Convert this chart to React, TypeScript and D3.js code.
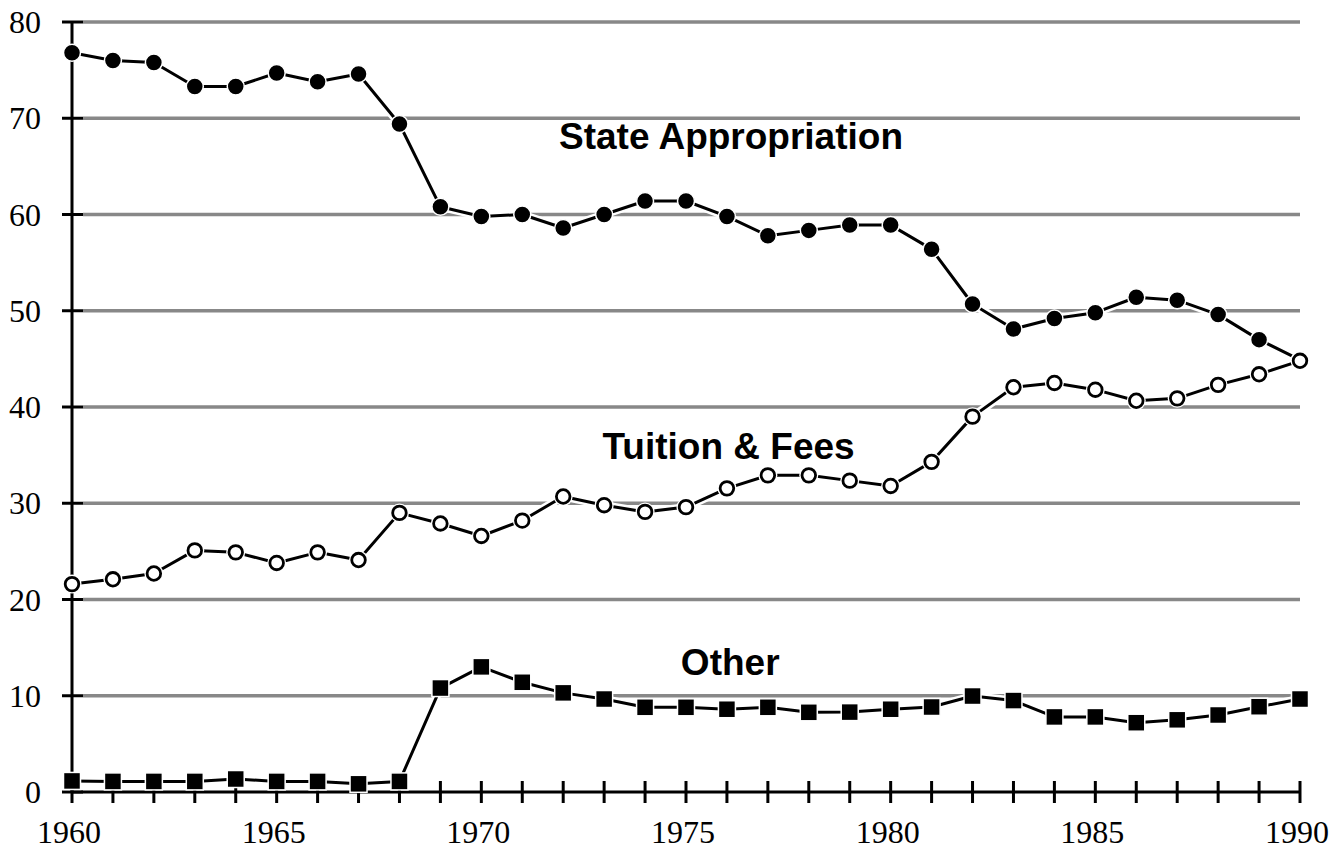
import React from "react";
import * as d3 from "d3";

const years: number[] = d3.range(1960, 1991);
const stateApprop: number[] = [76.8, 76.0, 75.8, 73.3, 73.3, 74.7, 73.8, 74.6, 69.4, 60.8, 59.8, 60.0, 58.6, 60.0, 61.4, 61.4, 59.8, 57.8, 58.35, 58.9, 58.9, 56.4, 50.7, 48.1, 49.2, 49.8, 51.4, 51.1, 49.6, 47.0, 44.9];
const tuition: number[] = [21.6, 22.1, 22.7, 25.1, 24.9, 23.8, 24.9, 24.1, 29.0, 27.9, 26.6, 28.2, 30.7, 29.8, 29.1, 29.6, 31.55, 32.9, 32.9, 32.35, 31.8, 34.3, 39.0, 42.05, 42.5, 41.8, 40.65, 40.9, 42.3, 43.4, 44.8];
const other: number[] = [1.15, 1.1, 1.1, 1.1, 1.35, 1.1, 1.1, 0.85, 1.1, 10.8, 13.0, 11.4, 10.3, 9.66, 8.8, 8.8, 8.6, 8.8, 8.28, 8.3, 8.6, 8.83, 9.97, 9.5, 7.8, 7.8, 7.2, 7.5, 8.0, 8.86, 9.66];
const yTicks: number[] = [0, 10, 20, 30, 40, 50, 60, 70, 80];
const xLabelYears: number[] = [1960, 1965, 1970, 1975, 1980, 1985, 1990];
const labels = [
  { text: "State Appropriation", x: 1976.1, y: 66.8 },
  { text: "Tuition & Fees", x: 1976.04, y: 34.6 },
  { text: "Other", x: 1976.08, y: 12.15 },
];

export default function App() {
  const W = 1331, H = 852;
  const x = d3.scaleLinear().domain([1960, 1990]).range([72, 1300]);
  const y = d3.scaleLinear().domain([0, 80]).range([792, 22]);
  const line = d3.line<number>().x((_, i) => x(years[i])).y((d) => y(d));
  const serif = "'Liberation Serif', 'Times New Roman', serif";
  const sans = "'Liberation Sans', Arial, sans-serif";
  const series = [stateApprop, tuition, other];

  return (
    <svg width={W} height={H} style={{ position: "absolute", left: 0, top: 0, background: "#fff" }}>
      <rect width={W} height={H} fill="#fff" />
      {yTicks.filter((t) => t > 0).map((t) => (
        <line key={"g" + t} x1={83} x2={1300} y1={y(t)} y2={y(t)} stroke="#888" strokeWidth={3.5} />
      ))}
      <line x1={72} x2={72} y1={y(80)} y2={y(0)} stroke="#000" strokeWidth={3} />
      <line x1={72} x2={1300} y1={y(0)} y2={y(0)} stroke="#000" strokeWidth={3} />
      {yTicks.map((t) => (
        <line key={"yt" + t} x1={62} x2={83} y1={y(t)} y2={y(t)} stroke="#000" strokeWidth={3} />
      ))}
      {years.map((yr) => (
        <line key={"xt" + yr} x1={x(yr)} x2={x(yr)} y1={y(0) - 11} y2={y(0) + 11} stroke="#000" strokeWidth={3} />
      ))}
      {yTicks.map((t) => (
        <text key={"yl" + t} x={41} y={y(t)} dy="0.35em" textAnchor="end" fontFamily={serif} fontSize={32} fill="#000">{t}</text>
      ))}
      {xLabelYears.map((yr) => (
        <text key={"xl" + yr} x={x(yr) - 3} y={843} textAnchor="middle" fontFamily={serif} fontSize={32} fill="#000">{yr}</text>
      ))}
      {series.map((s, i) => (
        <path key={"h" + i} d={line(s) || ""} fill="none" stroke="#fff" strokeWidth={8} strokeLinejoin="round" />
      ))}
      {series.map((s, i) => (
        <path key={"l" + i} d={line(s) || ""} fill="none" stroke="#000" strokeWidth={3} strokeLinejoin="round" />
      ))}
      {other.map((v, i) => (
        <rect key={"o" + i} x={x(years[i]) - 8.5} y={y(v) - 8.5} width={17} height={17} fill="#000" stroke="#fff" strokeWidth={1.5} />
      ))}
      {stateApprop.map((v, i) => (
        <circle key={"s" + i} cx={x(years[i])} cy={y(v)} r={8.5} fill="#000" stroke="#fff" strokeWidth={1.5} />
      ))}
      {tuition.map((v, i) => (
        <g key={"t" + i}>
          <circle cx={x(years[i])} cy={y(v)} r={9.5} fill="#fff" />
          <circle cx={x(years[i])} cy={y(v)} r={6.8} fill="#fff" stroke="#000" strokeWidth={2.8} />
        </g>
      ))}
      {labels.map((l) => (
        <text key={l.text} x={x(l.x)} y={y(l.y)} textAnchor="middle" fontFamily={sans} fontWeight="bold" fontSize={37} fill="#000">{l.text}</text>
      ))}
    </svg>
  );
}
